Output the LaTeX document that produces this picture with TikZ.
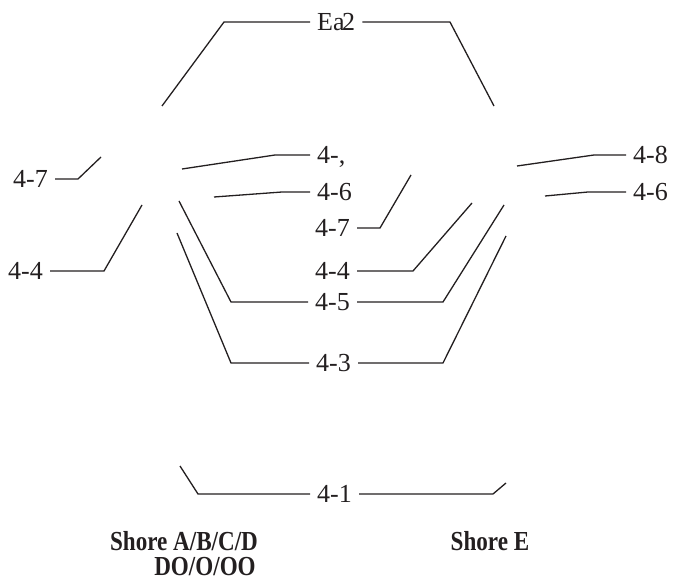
\documentclass[tikz,border=0pt]{standalone}
\usepackage{fontspec}
\usepackage{graphicx}
\setmainfont{Liberation Serif}
\definecolor{ink}{RGB}{35,31,32}
\newcommand{\squeeze}[1]{\scalebox{0.84}[1]{#1}}

\begin{document}
\begin{tikzpicture}[x=1pt, y=-1pt]
    \useasboundingbox (0,0) rectangle (673,583);
    \tikzset{lbl/.style={font=\fontsize{26}{26}\selectfont, text=ink, inner xsep=7pt, inner ysep=0pt, text height=17.5pt, text depth=0pt},
             shore/.style={font=\bfseries\fontsize{27.5}{27.5}\selectfont, text=ink, inner sep=0pt},
             leg/.style={draw=ink, line width=1.3pt}}

    % labels in the middle column
    \node[lbl, anchor=west] (ea) at (310, 22) {Ea\kern-2.5pt2};
    \node[lbl, anchor=west] (m4c) at (310, 155) {4-,};
    \node[lbl, anchor=west] (m46) at (310, 192) {4-6};
    \node[lbl, anchor=west] (m47) at (308, 228) {4-7};
    \node[lbl, anchor=west] (m44) at (308, 271) {4-4};
    \node[lbl, anchor=west] (m45) at (308, 302) {4-5};
    \node[lbl, anchor=west] (m43) at (309, 363) {4-3};
    \node[lbl, anchor=west] (m41) at (310, 494) {4-1};

    % labels at the sides
    \node[lbl, anchor=west] (l47) at (6, 179) {4-7};
    \node[lbl, anchor=west] (l44) at (1, 271) {4-4};
    \node[lbl, anchor=west] (r48) at (626, 155) {4-8};
    \node[lbl, anchor=west] (r46) at (626, 192) {4-6};

    % free ends and bends
    \coordinate (ea1) at (162, 106);  \coordinate (ea2) at (224, 22);
    \coordinate (ea3) at (450, 22);   \coordinate (ea4) at (494, 106);
    \coordinate (c1) at (182, 169);   \coordinate (c2) at (275, 155);
    \coordinate (s1) at (214, 197);   \coordinate (s2) at (282, 192);
    \coordinate (f1) at (179, 201);   \coordinate (f2) at (231, 302);
    \coordinate (f3) at (443, 302);   \coordinate (f4) at (504, 205);
    \coordinate (t1) at (177, 233);   \coordinate (t2) at (231, 363);
    \coordinate (t3) at (443, 363);   \coordinate (t4) at (506, 236);
    \coordinate (o1) at (180, 466);   \coordinate (o2) at (198, 494);
    \coordinate (o3) at (493, 494);   \coordinate (o4) at (506, 483);
    \coordinate (a1) at (78, 179);    \coordinate (a2) at (101, 157);
    \coordinate (b1) at (104, 271);   \coordinate (b2) at (142, 205);
    \coordinate (g1) at (380, 228);   \coordinate (g2) at (411, 175);
    \coordinate (h1) at (413, 271);   \coordinate (h2) at (472, 203);
    \coordinate (e1) at (517, 166);   \coordinate (e2) at (594, 155);
    \coordinate (k1) at (545, 196);   \coordinate (k2) at (588, 192);

    % legs into a label
    \foreach \a/\b/\t in {ea1/ea2/ea, c1/c2/m4c, s1/s2/m46, f1/f2/m45, t1/t2/m43, o1/o2/m41, e1/e2/r48, k1/k2/r46} {
        \draw[leg] (\a) -- (\b |- \t.west) -- (\t.west);
    }
    % legs out of a label
    \foreach \t/\b/\a in {ea/ea3/ea4, m45/f3/f4, m43/t3/t4, m41/o3/o4, l47/a1/a2, l44/b1/b2, m47/g1/g2, m44/h1/h2} {
        \draw[leg] (\t.east) -- (\b |- \t.east) -- (\a);
    }

    % hardness scales
    \node[shore] (sa) at (184, 541) {\squeeze{Shore A/B/C/D}};
    \node[shore] (sd) at (205, 567) {\squeeze{DO/O/OO}};
    \node[shore] (se) at (490, 541) {\squeeze{Shore E}};

\end{tikzpicture}
\end{document}
